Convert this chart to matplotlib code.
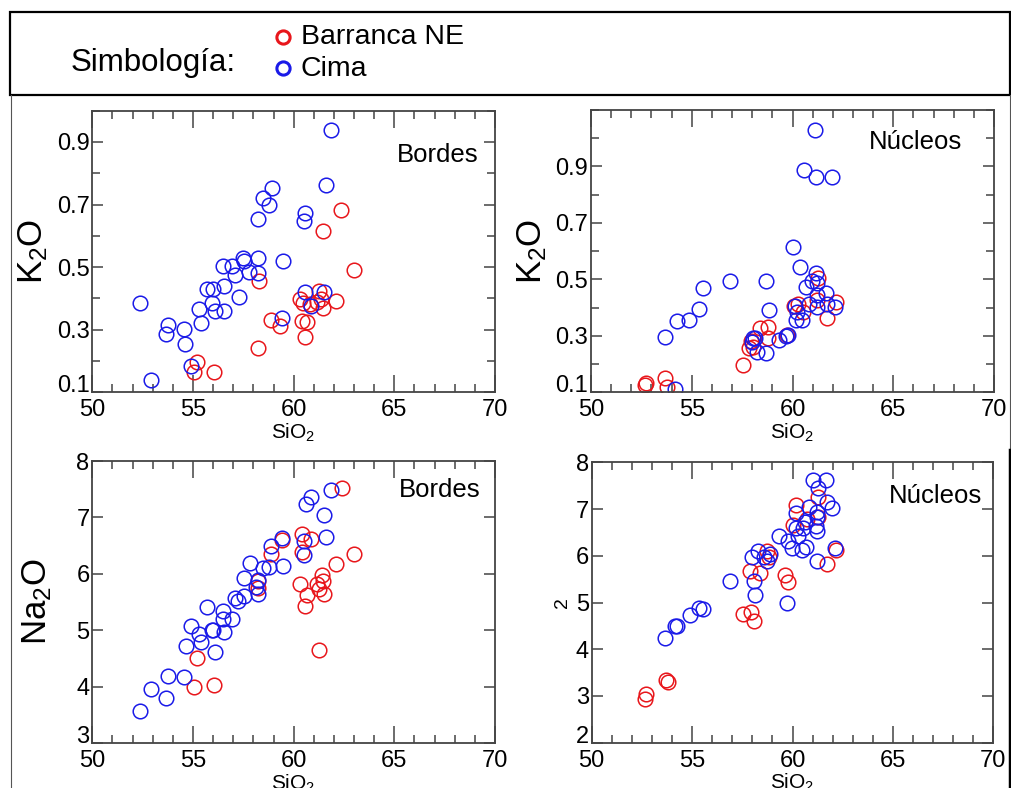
import numpy as np
import matplotlib.pyplot as plt
from matplotlib.lines import Line2D
from matplotlib.ticker import MultipleLocator, FormatStrFormatter

plt.rcParams['font.family'] = ['Liberation Sans', 'DejaVu Sans']
plt.rcParams['mathtext.fontset'] = 'custom'
plt.rcParams['mathtext.rm'] = 'Liberation Sans'
plt.rcParams['mathtext.it'] = 'Liberation Sans'
plt.rcParams['mathtext.default'] = 'regular'

# K2O vs SiO2, bordes
k2o_bordes_ne_x = [62.37, 61.44, 62.99, 58.28, 60.31, 60.45, 61.27, 61.34, 61.18, 61.47, 62.1,
                   60.81, 58.87, 59.34, 60.43, 60.68, 60.56, 58.25, 55.22, 55.03, 56.03]
k2o_bordes_ne_y = [0.684, 0.615, 0.49, 0.456, 0.397, 0.384, 0.424, 0.398, 0.39, 0.369, 0.393,
                   0.382, 0.332, 0.313, 0.329, 0.326, 0.276, 0.242, 0.197, 0.164, 0.164]
k2o_bordes_cima_x = [61.84, 61.6, 58.9, 58.46, 58.77, 58.21, 60.56, 60.51, 59.45, 58.21, 57.5,
                     57.53, 56.95, 56.51, 57.07, 57.78, 58.21, 56.54, 55.68, 56.01, 55.94,
                     56.08, 56.54, 57.27, 55.3, 55.4, 52.38, 53.77, 53.64, 54.55, 54.62,
                     54.92, 52.9, 59.42, 60.58, 61.49, 60.86]
k2o_bordes_cima_y = [0.938, 0.761, 0.752, 0.72, 0.698, 0.655, 0.674, 0.646, 0.519, 0.528, 0.528,
                     0.52, 0.505, 0.505, 0.475, 0.486, 0.48, 0.44, 0.431, 0.43, 0.384,
                     0.361, 0.361, 0.404, 0.366, 0.322, 0.384, 0.314, 0.285, 0.303, 0.255,
                     0.184, 0.139, 0.336, 0.42, 0.422, 0.376]

# K2O vs SiO2, nucleos
k2o_nucleos_ne_x = [61.28, 62.16, 61.73, 61.23, 60.07, 60.27, 60.54, 58.77, 58.4, 58.8, 59.71,
                    57.92, 58.02, 57.84, 57.53, 53.69, 53.79, 52.73, 52.7]
k2o_nucleos_ne_y = [0.506, 0.42, 0.363, 0.426, 0.406, 0.412, 0.383, 0.331, 0.327, 0.292, 0.304,
                    0.281, 0.262, 0.258, 0.198, 0.15, 0.12, 0.133, 0.127]
k2o_nucleos_cima_x = [61.1, 60.59, 61.17, 61.98, 60.02, 60.39, 56.9, 58.67, 55.54, 55.34, 54.88,
                      54.25, 53.69, 54.17, 58.83, 61.18, 60.98, 61.23, 60.67, 61.65, 61.22,
                      60.84, 60.14, 60.21, 60.19, 60.47, 61.2, 61.7, 62.11, 59.33, 59.79,
                      59.68, 58.14, 57.97, 58.02, 58.25, 58.7]
k2o_nucleos_cima_y = [1.03, 0.887, 0.864, 0.864, 0.613, 0.545, 0.495, 0.493, 0.47, 0.395, 0.355,
                      0.351, 0.296, 0.113, 0.392, 0.521, 0.496, 0.488, 0.473, 0.45, 0.444,
                      0.412, 0.405, 0.383, 0.355, 0.355, 0.402, 0.412, 0.402, 0.286, 0.304,
                      0.299, 0.293, 0.277, 0.293, 0.244, 0.24]

# Na2O vs SiO2, bordes
na2o_bordes_ne_x = [62.38, 60.43, 60.88, 59.4, 60.43, 58.87, 62.99, 62.1, 61.42, 61.47, 61.18,
                    60.31, 61.26, 61.51, 60.65, 60.58, 58.25, 58.25, 61.26, 55.22, 55.03, 56.03]
na2o_bordes_ne_y = [7.52, 6.7, 6.62, 6.6, 6.39, 6.35, 6.35, 6.18, 5.98, 5.88, 5.83,
                    5.82, 5.73, 5.64, 5.63, 5.43, 5.88, 5.75, 4.66, 4.51, 4.0, 4.03]
na2o_bordes_cima_x = [61.85, 60.86, 60.6, 61.52, 61.59, 60.51, 60.53, 59.4, 58.87, 59.47, 58.77,
                      58.46, 57.83, 57.52, 58.21, 58.13, 58.21, 57.55, 57.07, 57.25, 55.71,
                      56.51, 56.51, 56.92, 54.92, 55.3, 55.4, 55.96, 56.01, 56.54, 56.08,
                      54.64, 53.77, 54.55, 52.9, 53.64, 52.38]
na2o_bordes_cima_y = [7.48, 7.36, 7.24, 7.04, 6.65, 6.59, 6.34, 6.63, 6.5, 6.14, 6.13,
                      6.1, 6.2, 5.93, 5.89, 5.77, 5.64, 5.61, 5.57, 5.52, 5.42,
                      5.34, 5.2, 5.2, 5.07, 4.93, 4.79, 5.0, 5.0, 4.98, 4.61,
                      4.73, 4.19, 4.17, 3.97, 3.8, 3.57]

# Na2O vs SiO2, nucleos
na2o_nucleos_ne_x = [61.29, 60.19, 61.27, 60.04, 60.71, 58.75, 58.85, 62.15, 61.73, 57.88, 58.4,
                     59.64, 59.79, 57.55, 57.94, 58.08, 53.7, 53.78, 52.71, 52.67]
na2o_nucleos_ne_y = [7.25, 7.08, 6.83, 6.66, 6.79, 6.11, 5.98, 6.12, 5.83, 5.67, 5.63,
                     5.58, 5.43, 4.76, 4.8, 4.6, 3.34, 3.3, 3.05, 2.93]
na2o_nucleos_cima_x = [61.04, 61.65, 61.25, 61.73, 61.98, 60.84, 60.19, 61.24, 61.24, 60.64, 60.51,
                       60.16, 61.15, 61.22, 60.25, 59.33, 59.79, 59.99, 60.47, 60.66, 58.3,
                       58.0, 58.58, 58.86, 58.71, 62.13, 61.24, 56.89, 58.08, 58.15, 59.73,
                       53.67, 54.17, 54.23, 54.9, 55.36, 55.54]
na2o_nucleos_cima_y = [7.62, 7.62, 7.44, 7.14, 7.03, 7.04, 6.91, 6.93, 6.82, 6.72, 6.59,
                       6.59, 6.64, 6.54, 6.43, 6.43, 6.32, 6.17, 6.12, 6.18, 6.11,
                       5.97, 5.98, 6.03, 5.88, 6.16, 5.89, 5.47, 5.47, 5.17, 5.0,
                       4.23, 4.49, 4.49, 4.74, 4.89, 4.86]

RED = '#e8161b'
BLUE = '#1a1ae8'
W, H = 1011, 788


def fx(px):
    return px / W


def fy(py):
    return 1 - py / H


fig = plt.figure(figsize=(W / 100, H / 100), dpi=100)

# frame: header box plus side lines
fig.add_artist(plt.Rectangle((fx(9.5), fy(95)), fx(1010) - fx(9.5), fy(11.5) - fy(95),
                             transform=fig.transFigure, fill=False, ec='black', lw=1.6))
fig.add_artist(Line2D([fx(11), fx(11)], [fy(95), fy(788)], transform=fig.transFigure,
                      color='#555555', lw=0.8))
fig.add_artist(Line2D([fx(1010), fx(1010)], [fy(95), fy(450)], transform=fig.transFigure,
                      color='#555555', lw=0.8))
fig.add_artist(Line2D([fx(1009.5), fx(1009.5)], [fy(450), fy(788)], transform=fig.transFigure,
                      color='black', lw=2.5))

# header legend
fig.text(fx(71), fy(63), 'Simbología:', fontsize=22.5, va='center', ha='left')
fig.add_artist(Line2D([fx(283)], [fy(37)], transform=fig.transFigure, marker='o', ms=9.5,
                      mfc='none', mec=RED, mew=2.2))
fig.add_artist(Line2D([fx(283)], [fy(68)], transform=fig.transFigure, marker='o', ms=9.5,
                      mfc='none', mec=BLUE, mew=2.2))
fig.text(fx(301), fy(37), 'Barranca NE', fontsize=20.5, va='center', ha='left')
fig.text(fx(301), fy(69), 'Cima', fontsize=20.5, va='center', ha='left')

panels = [
    # (left, top, right, bottom) px, data, ylim, labelled y ticks, minor step, ylabel, title, title pos
    ((92.3, 110.7, 495, 392.3), (k2o_bordes_ne_x, k2o_bordes_ne_y, k2o_bordes_cima_x, k2o_bordes_cima_y),
     (0.1, 1.0), [0.1, 0.3, 0.5, 0.7, 0.9], 0.1, 'K$_2$O', 'Bordes', (0.958, 0.843), 33, 25),
    ((591, 110, 994, 392.3), (k2o_nucleos_ne_x, k2o_nucleos_ne_y, k2o_nucleos_cima_x, k2o_nucleos_cima_y),
     (0.1, 1.1), [0.1, 0.3, 0.5, 0.7, 0.9], 0.1, 'K$_2$O', 'Núcleos', (0.92, 0.887), 532, 25),
    ((92.3, 461, 495, 743.3), (na2o_bordes_ne_x, na2o_bordes_ne_y, na2o_bordes_cima_x, na2o_bordes_cima_y),
     (3, 8), [3, 4, 5, 6, 7, 8], None, 'Na$_2$O', 'Bordes', (0.963, 0.897), 37, 25),
    ((591.7, 462.3, 993.3, 742.7), (na2o_nucleos_ne_x, na2o_nucleos_ne_y, na2o_nucleos_cima_x, na2o_nucleos_cima_y),
     (2, 8), [2, 3, 4, 5, 6, 7, 8], None, '2', 'Núcleos', (0.972, 0.88), 562, 14),
]

for (l, t, r, b), (nx, ny, cx, cy), ylim, yticks, minor, ylab, title, tpos, ylx, ylfs in panels:
    ax = fig.add_axes([fx(l), fy(b), fx(r) - fx(l), fy(t) - fy(b)])
    ax.plot(nx, ny, 'o', ms=10.5, mfc='none', mec=RED, mew=1.1)
    ax.plot(cx, cy, 'o', ms=10.5, mfc='none', mec=BLUE, mew=1.1)
    ax.set_xlim(50, 70)
    ax.set_ylim(*ylim)
    ax.xaxis.set_major_locator(MultipleLocator(5))
    ax.xaxis.set_minor_locator(MultipleLocator(1))
    ax.set_yticks(yticks)
    if minor:
        ax.yaxis.set_minor_locator(MultipleLocator(minor))
        ax.yaxis.set_major_formatter(FormatStrFormatter('%.1f'))
    ax.tick_params(which='both', direction='in', top=True, right=True, color='#444444',
                   labelsize=17, width=1.1)
    ax.tick_params(axis='x', which='major', length=12, pad=5)
    ax.tick_params(axis='y', which='major', length=8, pad=2)
    ax.tick_params(which='minor', length=6)
    for s in ax.spines.values():
        s.set_color('#444444')
        s.set_linewidth(1.3)
    ax.set_xlabel('SiO$_2$', fontsize=15, labelpad=0)
    ax.text(tpos[0], tpos[1], title, transform=ax.transAxes, fontsize=18.5, ha='right', va='center')
    fig.text(fx(ylx), fy((t + b) / 2), ylab, fontsize=ylfs, rotation=90, ha='center', va='center')
    # lowest y label sits above its tick, as in the original
    fig.canvas.draw()
    ax.get_yticklabels()[0].set_verticalalignment('baseline')

fig.savefig('out.png', dpi=100)
